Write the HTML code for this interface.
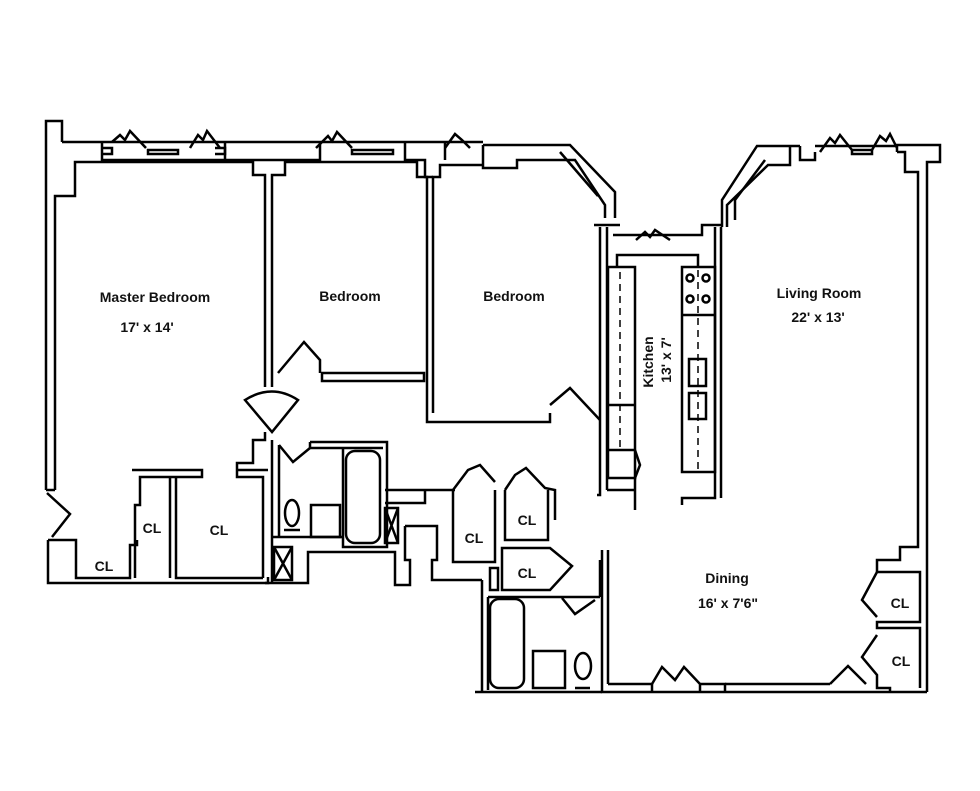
<!DOCTYPE html>
<html><head><meta charset="utf-8"><style>
html,body{margin:0;padding:0;background:#fff;}
svg{display:block;}
text{font-family:"Liberation Sans",sans-serif;font-weight:bold;fill:#111;}
</style></head><body>
<svg width="980" height="791" viewBox="0 0 980 791" xmlns="http://www.w3.org/2000/svg">
<g fill="none" stroke="#000" stroke-width="2.5" stroke-linejoin="miter">
<path d="M62,142 L62,121 L46,121 L46,490"/>
<path d="M55,490 L55,196 L75,196 L75,162 L253,162 L253,175 L265,175 L265,387"/>
<path d="M46,490 L55,490"/>
<path d="M62,142 L483,142"/>
<path d="M102,142 L102,160 L225,160 L225,142"/>
<path d="M225,160 L320,160 L320,142"/>
<path d="M405,142 L405,160 L425,160 L425,177 L433,177"/>
<path d="M102,148 L112,148 L112,154 L102,154"/>
<path d="M148,150 L178,150 L178,154 L148,154 Z"/>
<path d="M112,142 L120,135 L125,140 L130,131 L146,148"/>
<path d="M190,148 L198,135 L203,140 L207,131 L220,148"/>
<path d="M215,148 L225,148 L225,154 L215,154"/>
<path d="M316,148 L328,136 L332,141 L337,132 L352,148"/>
<path d="M352,150 L393,150 L393,154 L352,154 Z"/>
<path d="M445,148 L455,134 L462,140 L470,148"/>
<path d="M445,142 L445,160"/>
<path d="M272,387 L272,175 L285,175 L285,162 L417,162 L417,177 L427,177 L427,422 L550,422 L550,413"/>
<path d="M433,413 L433,177 L440,177 L440,165 L483,165"/>
<path d="M322,373 L424,373 L424,381 L322,381 Z"/>
<path d="M278,373 L304,342 L320,360 L320,373"/>
<path d="M245,400 L272,432 L298,400 Q272,383 245,400 Z"/>
<path d="M483,145 L483,168 L517,168 L517,160 L540,160"/>
<path d="M483,145 L570,145 L615,192 L615,218"/>
<path d="M540,160 L575,160 L605,205 L605,218"/>
<path d="M560,152 L598,196"/>
<path d="M550,405 L570,388 L600,420"/>
<path d="M600,227 L600,495 L597,495 M607,227 L607,490"/>
<path d="M594,225 L620,225 M613,235 L702,235 L702,225 L722,225"/>
<path d="M617,268 L617,255 L698,255 L698,268"/>
<path d="M636,240 L645,232 L650,237 L655,230 L670,240"/>
<path d="M715,227 L715,498 L682,498 L682,505 M721,227 L721,498"/>
<path d="M635,478 L635,510 M607,490 L635,490"/>
<rect x="608" y="267" width="27" height="211"/>
<path d="M608,405 L635,405 M608,450 L635,450"/>
<path d="M635,450 L640,465 L635,478"/>
<rect x="682" y="267" width="33" height="205"/>
<path d="M682,315 L715,315"/>
<rect x="689" y="359" width="17" height="27"/>
<rect x="689" y="393" width="17" height="26"/>
<circle cx="690" cy="278" r="3.5"/><circle cx="706" cy="278" r="3.5"/>
<circle cx="690" cy="299" r="3.5"/><circle cx="706" cy="299" r="3.5"/>
</g>
<g fill="none" stroke="#000" stroke-width="1.5" stroke-dasharray="7,5">
<path d="M620,272 L620,450"/>
<path d="M698,270 L698,470"/>
</g>
<g fill="none" stroke="#000" stroke-width="2.5">
<path d="M722,227 L722,200 L757,146 L800,146"/>
<path d="M727,227 L727,205 L768,165 L790,165 L790,146"/>
<path d="M735,220 L735,200 L765,160"/>
<path d="M800,146 L800,160 L815,160 L815,152"/>
<path d="M820,152 L830,138 L835,143 L840,135 L852,150"/>
<path d="M852,150 L872,150 L872,154 L852,154 Z"/>
<path d="M872,150 L880,136 L886,141 L890,134 L897,148"/>
<path d="M815,146 L897,146"/>
<path d="M897,152 L897,145 L940,145 L940,162 L927,162 L927,692"/>
<path d="M897,152 L905,152 L905,172 L918,172 L918,547 L900,547 L900,560 L877,560 L877,572"/>
<path d="M877,572 L920,572 L920,622 L877,622 L877,628 L920,628 L920,688"/>
<path d="M877,572 L862,600 L877,617"/>
<path d="M877,635 L862,657 L877,675 L877,688 L890,688 L890,692"/>
<path d="M608,684 L652,684 L652,692 M608,550 L608,684 M602,550 L602,692 L927,692"/>
<path d="M652,684 L662,667 L675,680 L684,667 L700,684 L700,692"/>
<path d="M700,684 L725,684 L725,692 M830,684 L848,666 L866,684"/>
<path d="M725,684 L830,684"/>
<path d="M475,692 L602,692 M482,580 L482,692 M488,597 L600,597"/>
<rect x="490" y="599" width="34" height="89" rx="9"/>
<rect x="533" y="651" width="32" height="37"/>
<ellipse cx="583" cy="666" rx="8" ry="13"/>
<path d="M575,688 L590,688"/>
<path d="M488,597 L488,690 M600,597 L600,560 M595,600 L575,614 L562,598"/>
<path d="M453,490 L453,562 L495,562 L495,490 M453,490 L468,470 L480,465 L495,482"/>
<path d="M505,490 L505,540 L548,540 L548,490 M505,490 L515,475 L526,468 L545,488 L555,490 L555,520"/>
<path d="M502,548 L502,590 L550,590 L572,566 L550,548 Z"/>
<rect x="490" y="568" width="8" height="22"/>
<path d="M385,490 L455,490 M385,503 L425,503 L425,490"/>
<path d="M405,526 L437,526 L437,560 L432,560 L432,580 L482,580"/>
<path d="M405,526 L405,560 L410,560 L410,585 L395,585 L395,552 L308,552 L308,583 L265,583"/>
<path d="M310,442 L387,442 L387,547 L343,547 L343,448 M310,442 L310,448 L383,448"/>
<rect x="346" y="451" width="34" height="92" rx="9"/>
<path d="M273,537 L343,537 M272,440 L272,583 M279,445 L279,537"/>
<rect x="311" y="505" width="29" height="32"/>
<ellipse cx="292" cy="513" rx="7" ry="13"/>
<path d="M284,530 L300,530"/>
<path d="M279,445 L293,462 L310,448"/>
<rect x="274" y="547" width="18" height="33"/>
<path d="M274,547 L292,580 M292,547 L274,580"/>
<rect x="385" y="508" width="13" height="35"/>
<path d="M385,508 L398,543 M398,508 L385,543"/>
<path d="M265,432 L265,440 L253,440 L253,463 L237,463 L237,477 L263,477 L263,578"/>
<path d="M47,493 L70,514 L52,537"/>
<path d="M48,540 L48,583 L268,583 L268,577"/>
<path d="M48,540 L76,540 L76,578 L130,578 L130,545 L137,545 L137,540"/>
<path d="M132,470 L202,470 L202,477 L140,477 L140,505 L135,505 L135,578 M170,477 L170,578 M176,477 L176,578 L263,578"/>
<path d="M237,470 L268,470"/>
</g>
<g font-size="14">
<text x="155" y="302" text-anchor="middle">Master Bedroom</text>
<text x="147" y="332" text-anchor="middle">17' x 14'</text>
<text x="350" y="301" text-anchor="middle">Bedroom</text>
<text x="514" y="301" text-anchor="middle">Bedroom</text>
<text x="819" y="298" text-anchor="middle">Living Room</text>
<text x="818" y="322" text-anchor="middle">22' x 13'</text>
<text x="727" y="583" text-anchor="middle">Dining</text>
<text x="728" y="608" text-anchor="middle">16' x 7'6"</text>
<text transform="translate(653,362) rotate(-90)" text-anchor="middle">Kitchen</text>
<text transform="translate(671,360) rotate(-90)" text-anchor="middle">13' x 7'</text>
<text x="152" y="533" text-anchor="middle">CL</text>
<text x="219" y="535" text-anchor="middle">CL</text>
<text x="104" y="571" text-anchor="middle">CL</text>
<text x="474" y="543" text-anchor="middle">CL</text>
<text x="527" y="525" text-anchor="middle">CL</text>
<text x="527" y="578" text-anchor="middle">CL</text>
<text x="900" y="608" text-anchor="middle">CL</text>
<text x="901" y="666" text-anchor="middle">CL</text>
</g>
</svg>
</body></html>
